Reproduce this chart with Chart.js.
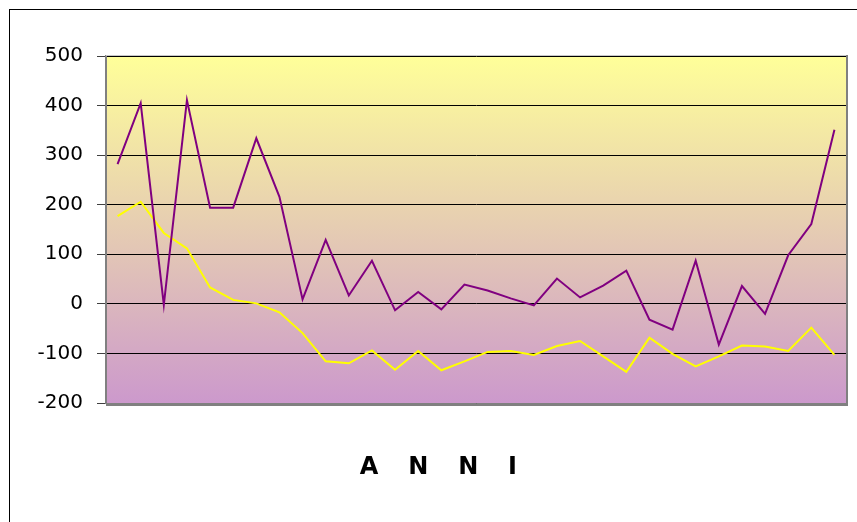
<!DOCTYPE html>
<html>
<head>
<meta charset="utf-8">
<script src="https://cdn.jsdelivr.net/npm/chart.js@4.4.0/dist/chart.umd.min.js"></script>
<style>
  html, body { margin: 0; padding: 0; background: #fff; overflow: hidden; }
  #wrap { position: relative; width: 857px; height: 522px; }
  #frame {
    position: absolute; left: 9px; top: 9px; width: 900px; height: 600px;
    border-top: 1px solid #000; border-left: 1px solid #000; pointer-events: none;
  }
  canvas { position: absolute; left: 0; top: 0; }
</style>
</head>
<body>
<div id="wrap">
  <canvas id="chart" width="857" height="522"></canvas>
  <div id="frame"></div>
</div>
<script>
// one entry per year (labels are not shown on the axis)
const years = Array.from({ length: 32 }, (_, i) => String(i + 1));

const purpleValues = [282, 405, -2, 411, 194, 194, 334, 216, 9, 129, 17, 87, -13, 24, -11, 39,
  27, 11, -3, 51, 13, 37, 67, -32, -52, 87, -82, 36, -20, 98, 161, 351];
const yellowValues = [177, 206, 143, 112, 33, 8, 1, -17, -59, -116, -120, -94, -133, -95, -134, -116,
  -97, -95, -103, -85, -75, -106, -137, -68, -101, -126, -106, -84, -86, -95, -48, -103];

const yMin = -200;
const yMax = 500;
const yStep = 100;

// spaced-out axis title; the trailing blanks move it a little left of centre
const axisTitle = 'A   \u2009N   \u2009N   \u2009I' + '\u00a0'.repeat(9);

// gradient background behind the plot area
const plotBackground = {
  id: 'plotBackground',
  beforeDraw(chart) {
    const { ctx, chartArea: a } = chart;
    const g = ctx.createLinearGradient(0, a.top, 0, a.bottom);
    g.addColorStop(0, '#FFFF99');
    g.addColorStop(1, '#CC99CC');
    ctx.save();
    ctx.fillStyle = g;
    ctx.fillRect(a.left, a.top, a.right - a.left, a.bottom - a.top);
    ctx.restore();
  }
};

// grey frame round the plot area (light top, darker right/bottom)
const plotFrame = {
  id: 'plotFrame',
  afterDraw(chart) {
    const { ctx, chartArea: a } = chart;
    ctx.save();
    ctx.strokeStyle = '#C8C8C8';
    ctx.lineWidth = 1;
    ctx.beginPath();
    ctx.moveTo(a.left, a.top - 0.5);
    ctx.lineTo(a.right, a.top - 0.5);
    ctx.stroke();
    ctx.strokeStyle = '#808080';
    ctx.lineWidth = 2;
    ctx.beginPath();
    ctx.moveTo(a.right + 1, a.top - 1);
    ctx.lineTo(a.right + 1, a.bottom + 2);
    ctx.lineTo(a.left, a.bottom + 2);
    ctx.stroke();
    ctx.restore();
  }
};

new Chart(document.getElementById('chart'), {
  type: 'line',
  data: {
    labels: years,
    datasets: [
      {
        label: 'serie 1',
        data: purpleValues,
        borderColor: '#800080',
        borderWidth: 2,
        pointRadius: 0,
        tension: 0
      },
      {
        label: 'serie 2',
        data: yellowValues,
        borderColor: '#FFFF00',
        borderWidth: 2,
        pointRadius: 0,
        tension: 0
      }
    ]
  },
  options: {
    responsive: false,
    animation: false,
    layout: { padding: { left: 0, top: 56, right: 11, bottom: 0 } },
    plugins: {
      legend: { display: false },
      tooltip: { enabled: false }
    },
    scales: {
      x: {
        offset: true,
        ticks: { display: false },
        grid: { display: false, drawTicks: false },
        border: { display: true, color: '#808080', width: 1 },
        title: {
          display: true,
          text: axisTitle,
          color: '#000',
          font: { family: 'DejaVu Sans', size: 24, weight: 'bold' },
          padding: { top: 0, bottom: 40 }
        },
        afterFit(scale) { scale.height = 119; }
      },
      y: {
        min: yMin,
        max: yMax,
        ticks: {
          stepSize: yStep,
          color: '#000',
          padding: 14,
          font: { family: 'DejaVu Sans', size: 20 }
        },
        grid: {
          color: '#000',
          lineWidth: 1,
          tickLength: 9,
          tickColor: '#404040'
        },
        border: { display: true, color: '#808080', width: 2 },
        afterFit(scale) { scale.width = 106; }
      }
    }
  },
  plugins: [plotBackground, plotFrame]
});
</script>
</body>
</html>
